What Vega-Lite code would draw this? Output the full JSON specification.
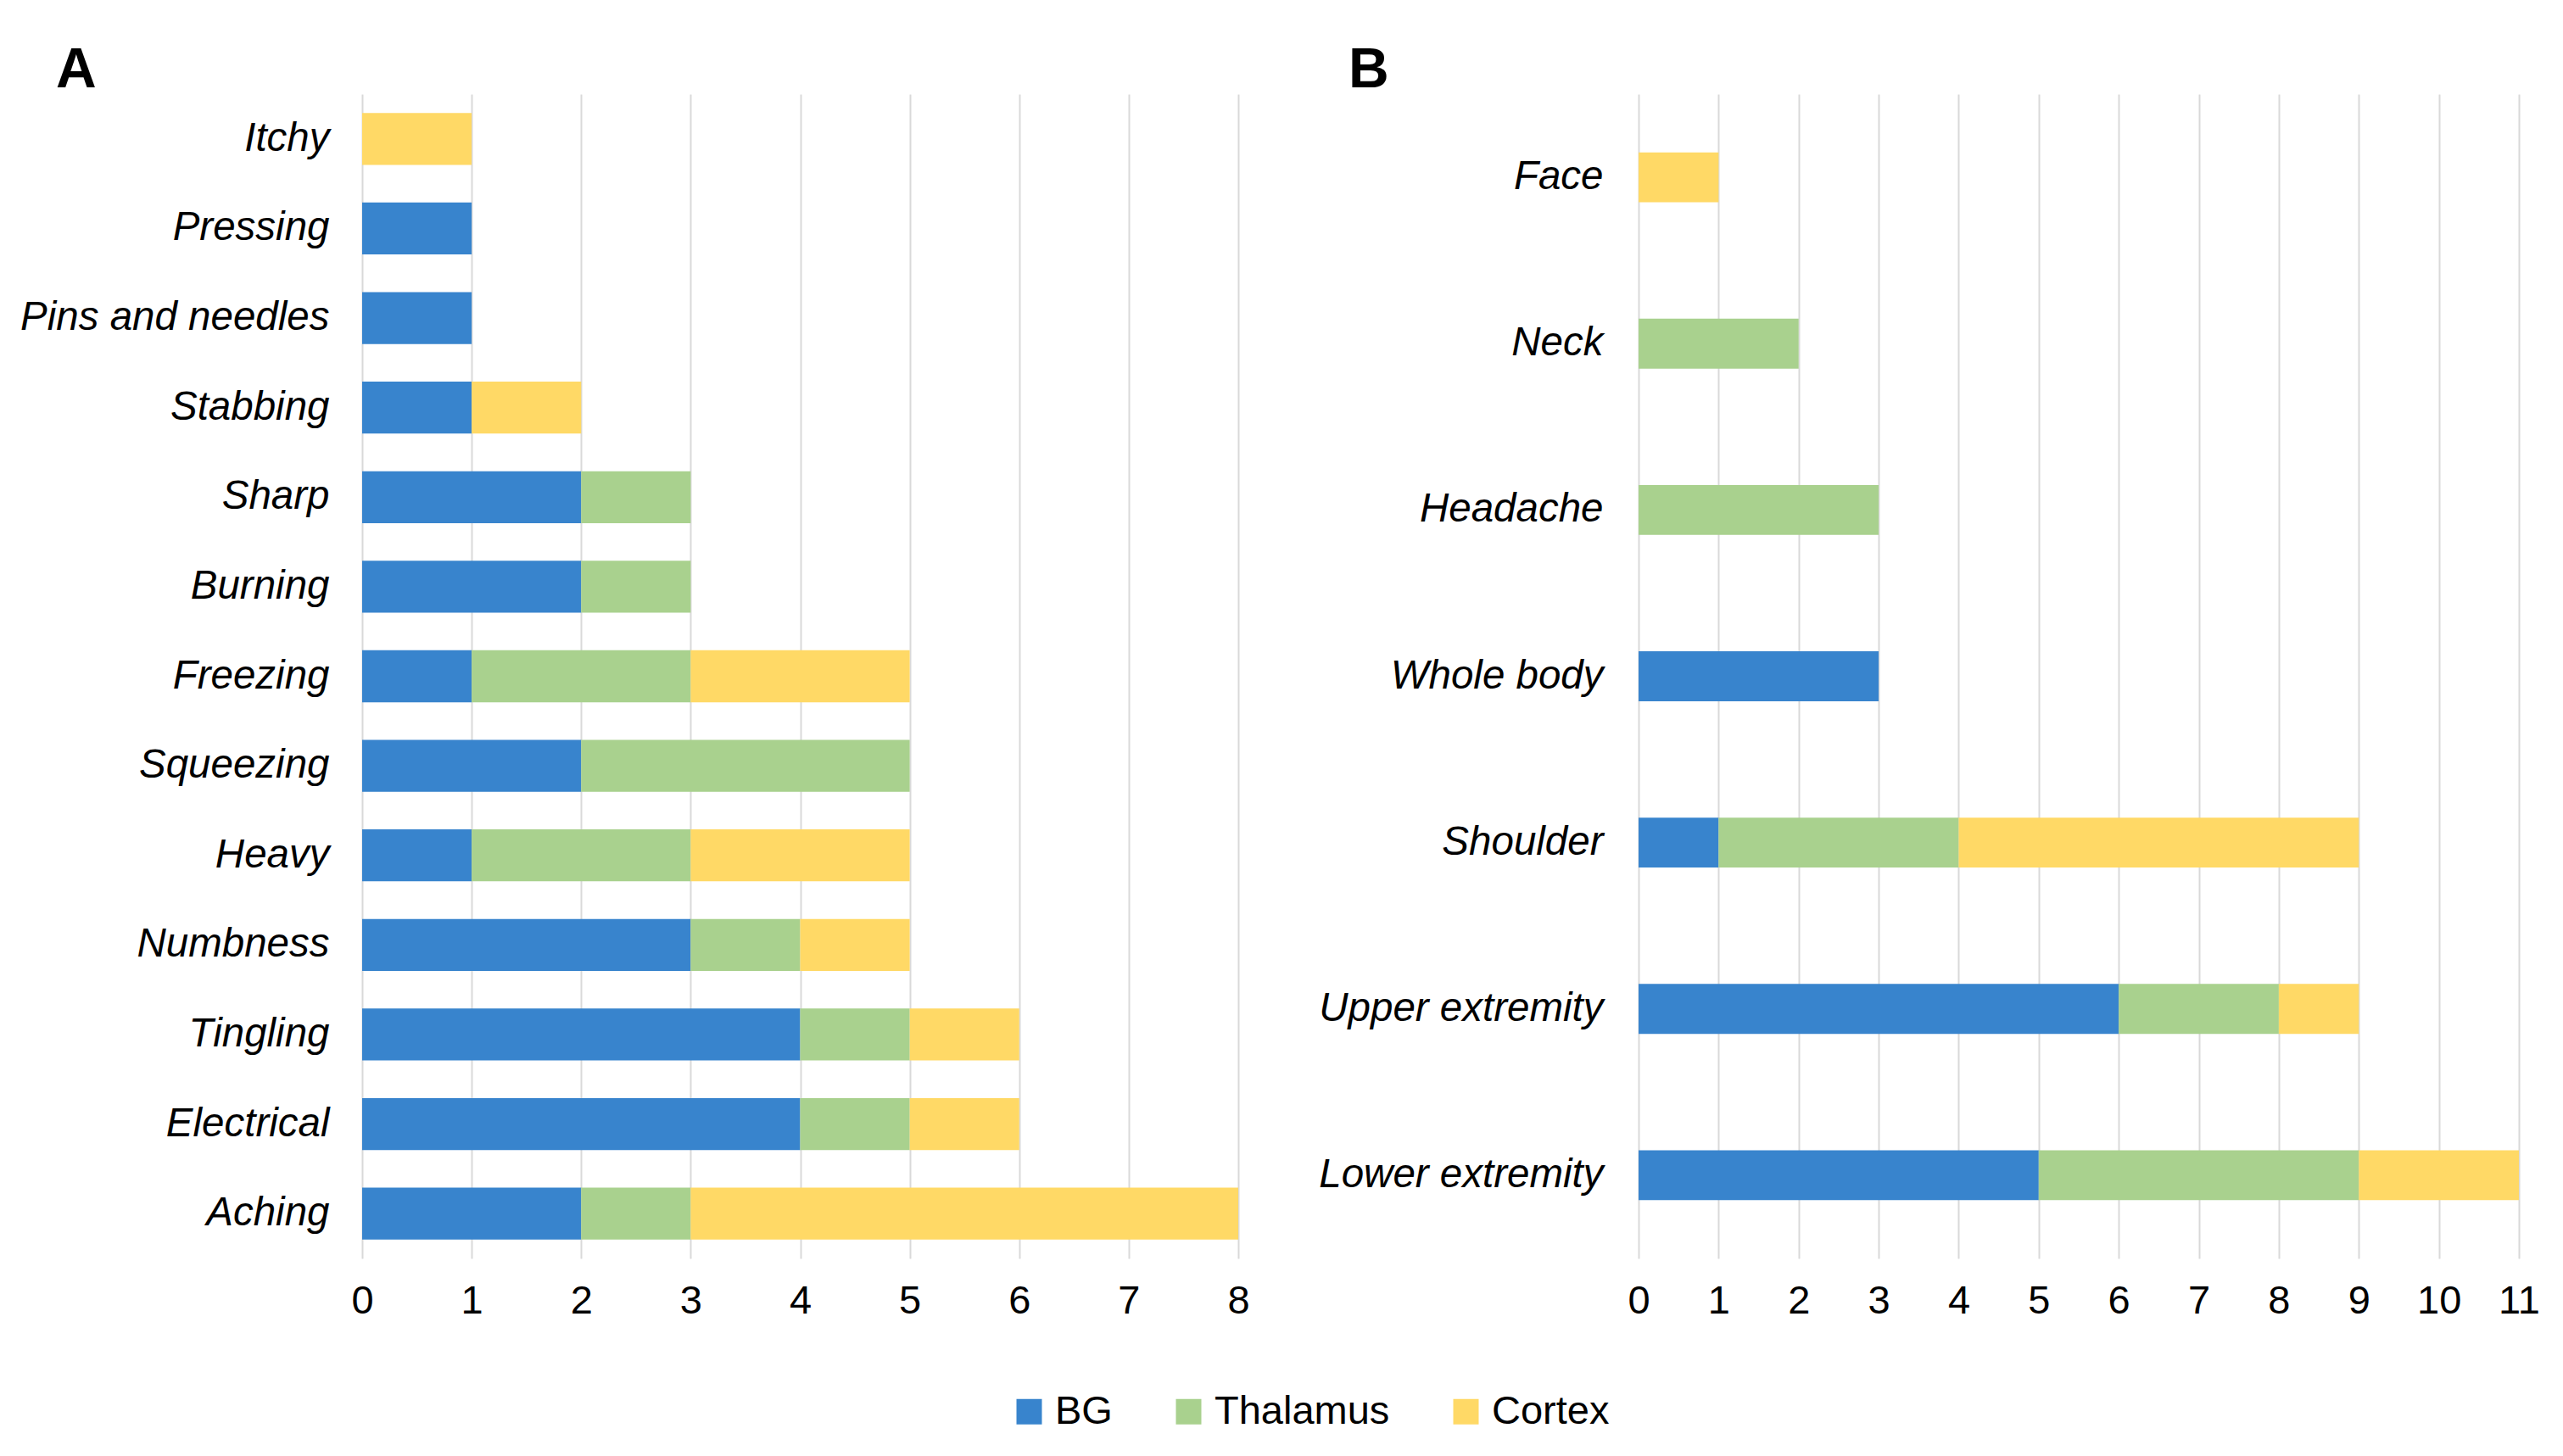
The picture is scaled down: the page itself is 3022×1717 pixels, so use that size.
{
  "$schema": "https://vega.github.io/schema/vega-lite/v6.json",
  "padding": {"left": 23, "top": 50, "right": 0, "bottom": 0},
  "background": "white",
  "config": {
    "font": "Liberation Sans",
    "view": {"stroke": null},
    "axis": {"labelFont": "Liberation Sans", "labelColor": "#000000", "labelFontSize": 47, "title": null, "domain": false, "ticks": false, "tickSize": 0},
    "title": {"font": "Liberation Sans", "fontSize": 66, "fontWeight": "bold", "color": "#000000", "anchor": "start", "frame": "group", "baseline": "alphabetic", "offset": -6}
  },
  "spacing": 80,
  "resolve": {"scale": {"color": "shared"}},
  "hconcat": [
    {
      "title": {"text": "A", "dx": -361},
      "width": 1033,
      "height": 1373,
      "data": {"values": [
        {"item": "Itchy", "region": "Cortex", "k": 3, "n": 1},
        {"item": "Pressing", "region": "BG", "k": 1, "n": 1},
        {"item": "Pins and needles", "region": "BG", "k": 1, "n": 1},
        {"item": "Stabbing", "region": "BG", "k": 1, "n": 1},
        {"item": "Stabbing", "region": "Cortex", "k": 3, "n": 1},
        {"item": "Sharp", "region": "BG", "k": 1, "n": 2},
        {"item": "Sharp", "region": "Thalamus", "k": 2, "n": 1},
        {"item": "Burning", "region": "BG", "k": 1, "n": 2},
        {"item": "Burning", "region": "Thalamus", "k": 2, "n": 1},
        {"item": "Freezing", "region": "BG", "k": 1, "n": 1},
        {"item": "Freezing", "region": "Thalamus", "k": 2, "n": 2},
        {"item": "Freezing", "region": "Cortex", "k": 3, "n": 2},
        {"item": "Squeezing", "region": "BG", "k": 1, "n": 2},
        {"item": "Squeezing", "region": "Thalamus", "k": 2, "n": 3},
        {"item": "Heavy", "region": "BG", "k": 1, "n": 1},
        {"item": "Heavy", "region": "Thalamus", "k": 2, "n": 2},
        {"item": "Heavy", "region": "Cortex", "k": 3, "n": 2},
        {"item": "Numbness", "region": "BG", "k": 1, "n": 3},
        {"item": "Numbness", "region": "Thalamus", "k": 2, "n": 1},
        {"item": "Numbness", "region": "Cortex", "k": 3, "n": 1},
        {"item": "Tingling", "region": "BG", "k": 1, "n": 4},
        {"item": "Tingling", "region": "Thalamus", "k": 2, "n": 1},
        {"item": "Tingling", "region": "Cortex", "k": 3, "n": 1},
        {"item": "Electrical", "region": "BG", "k": 1, "n": 4},
        {"item": "Electrical", "region": "Thalamus", "k": 2, "n": 1},
        {"item": "Electrical", "region": "Cortex", "k": 3, "n": 1},
        {"item": "Aching", "region": "BG", "k": 1, "n": 2},
        {"item": "Aching", "region": "Thalamus", "k": 2, "n": 1},
        {"item": "Aching", "region": "Cortex", "k": 3, "n": 5}
      ]},
      "mark": {"type": "bar"},
      "encoding": {
        "y": {"field": "item", "type": "nominal", "sort": null,
              "scale": {"paddingInner": 0.42, "paddingOuter": 0.21},
              "axis": {"labelPadding": 39, "labelLimit": 1000, "labelFontStyle": "italic", "labelFontSize": 47.5, "grid": false}},
        "x": {"field": "n", "type": "quantitative", "stack": "zero",
              "scale": {"domain": [0, 8], "nice": false},
              "axis": {"values": [0, 1, 2, 3, 4, 5, 6, 7, 8], "grid": true, "gridColor": "#D9D9D9", "gridWidth": 2, "labelPadding": 27, "labelBaseline": "top", "labelAngle": 0, "labelFlush": false}},
        "color": {"field": "region", "type": "nominal",
                  "scale": {"domain": ["BG", "Thalamus", "Cortex"], "range": ["#3884CD", "#A9D18E", "#FFD966"]},
                  "legend": {"orient": "none", "legendX": 763, "legendY": 1530, "direction": "horizontal", "title": null,
                             "symbolType": "square", "symbolSize": 900, "symbolStrokeWidth": 0, "labelFontSize": 47, "labelFont": "Liberation Sans", "labelColor": "#000000", "labelOffset": 7, "labelLimit": 1000, "columnPadding": 66}},
        "order": {"field": "k", "type": "quantitative"}
      }
    },
    {
      "title": {"text": "B", "dx": -342},
      "width": 1038,
      "height": 1373,
      "data": {"values": [
        {"item": "Face", "region": "Cortex", "k": 3, "n": 1},
        {"item": "Neck", "region": "Thalamus", "k": 2, "n": 2},
        {"item": "Headache", "region": "Thalamus", "k": 2, "n": 3},
        {"item": "Whole body", "region": "BG", "k": 1, "n": 3},
        {"item": "Shoulder", "region": "BG", "k": 1, "n": 1},
        {"item": "Shoulder", "region": "Thalamus", "k": 2, "n": 3},
        {"item": "Shoulder", "region": "Cortex", "k": 3, "n": 5},
        {"item": "Upper extremity", "region": "BG", "k": 1, "n": 6},
        {"item": "Upper extremity", "region": "Thalamus", "k": 2, "n": 2},
        {"item": "Upper extremity", "region": "Cortex", "k": 3, "n": 1},
        {"item": "Lower extremity", "region": "BG", "k": 1, "n": 5},
        {"item": "Lower extremity", "region": "Thalamus", "k": 2, "n": 4},
        {"item": "Lower extremity", "region": "Cortex", "k": 3, "n": 2}
      ]},
      "mark": {"type": "bar"},
      "encoding": {
        "y": {"field": "item", "type": "nominal", "sort": null,
              "scale": {"paddingInner": 0.7, "paddingOuter": 0.35},
              "axis": {"labelPadding": 42, "labelLimit": 1000, "labelFontStyle": "italic", "labelFontSize": 47.5, "grid": false}},
        "x": {"field": "n", "type": "quantitative", "stack": "zero",
              "scale": {"domain": [0, 11], "nice": false},
              "axis": {"values": [0, 1, 2, 3, 4, 5, 6, 7, 8, 9, 10, 11], "grid": true, "gridColor": "#D9D9D9", "gridWidth": 2, "labelPadding": 27, "labelBaseline": "top", "labelAngle": 0, "labelFlush": false}},
        "color": {"field": "region", "type": "nominal"},
        "order": {"field": "k", "type": "quantitative"}
      }
    }
  ]
}
